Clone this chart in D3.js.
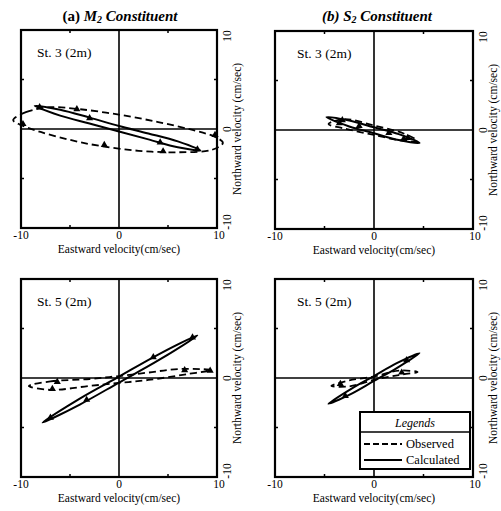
<!DOCTYPE html>
<html><head><meta charset="utf-8">
<script src="https://cdn.jsdelivr.net/npm/d3@7"></script>
<style>body{margin:0;background:#fff}svg{display:block}</style>
</head><body><svg id="c" width="501" height="511"></svg>
<script>
// ---- data (cm/sec) ----
const xTicks = [-10, 0, 10];
const yTicks = [-10, 0, 10];
const minorTicks = [-5, 5];
const stations = ["St. 3 (2m)", "St. 3 (2m)", "St. 5 (2m)", "St. 5 (2m)"];
const legendLabels = ["Observed", "Calculated"];

// M2, St.3
const obsA = [[-10.8,0.9],[-9.5,1.7],[-7,2.2],[-4,2.0],[0,1.45],[4,0.7],[7.5,-0.1],[9.8,-0.8],[10.6,-1.4],[9.5,-2.1],[6,-2.35],[2,-2.2],[-2,-1.7],[-5,-1.1],[-8,-0.3],[-10,0.4]];
const calA = [[-8.6,2.34],[-6,1.95],[-3,1.15],[0,0.3],[3,-0.45],[6,-1.25],[8.3,-2.16],[6,-1.85],[3,-1.05],[0,-0.25],[-3,0.55],[-6,1.35]];
const obsAMarks = [[-4.3,2.0],[4.5,-2.25],[-9.8,0.5],[9.8,-0.6],[-1.5,-1.6]];
const calAMarks = [[-8.1,2.2],[-3,1.1],[4.2,-1.35],[8.0,-2.05]];
// S2, St.3
const obsB = [[-4.6,0.6],[-3,1.1],[0,0.45],[3,-0.35],[4.4,-1.1],[3,-1.1],[0,-0.5],[-3,0.15]];
const calB = [[-4.8,1.3],[-2.5,0.96],[0,0.27],[2.5,-0.42],[4.6,-1.3],[2.5,-1.02],[0,-0.33],[-2.5,0.36]];
const obsBMarks = [[-3.5,0.7],[3.4,-0.8],[1.5,-0.3]];
const calBMarks = [[-3.2,1.0],[3.0,-0.9],[-1.5,0.4]];
// M2, St.5
const obsC = [[-9.2,-0.8],[-7,-0.35],[-3,-0.1],[0,0.2],[3,0.55],[6,0.9],[9.4,0.8],[7,0.4],[3,-0.2],[0,-0.5],[-3,-0.8],[-7,-1.2]];
const calC = [[-7.8,-4.5],[-4,-2.08],[0,0.14],[4,2.37],[8.0,4.3],[4,1.77],[0,-0.46],[-4,-2.68]];
const obsCMarks = [[-6.8,-1.1],[6.7,0.8],[9.3,0.75],[-6.3,-0.4]];
const calCMarks = [[-7.0,-4.0],[-3.3,-2.2],[3.5,2.1],[7.5,4.1]];
// S2, St.5
const obsD = [[-4.3,-0.8],[-2.5,-0.25],[0,0.15],[2.5,0.75],[4.4,0.6],[2.5,0.3],[0,-0.2],[-2.5,-0.85]];
const calD = [[-4.6,-2.6],[-2.3,-1.1],[0,0.2],[2.3,1.5],[4.6,2.5],[2.3,1.0],[0,-0.3],[-2.3,-1.6]];
const obsDMarks = [[-3.4,-0.6],[2.8,0.55]];
const calDMarks = [[-2.9,-1.8],[3.3,1.8]];

const panelData = [
  {obs: obsA, cal: calA, om: obsAMarks, cm: calAMarks},
  {obs: obsB, cal: calB, om: obsBMarks, cm: calBMarks},
  {obs: obsC, cal: calC, om: obsCMarks, cm: calCMarks},
  {obs: obsD, cal: calD, om: obsDMarks, cm: calDMarks}
];

// ---- layout ----
const boxes = [
  {x:21, y:30, w:196, h:198},
  {x:275, y:31, w:198, h:198},
  {x:21, y:279, w:196, h:198},
  {x:275, y:279, w:198, h:198}
];
const FONT = "'Liberation Serif','Times New Roman',serif";
const svg = d3.select("#c");

// titles
[[120,"M"],[377,"S"]].forEach((t,i)=>{
  const tx = svg.append("text").attr("x",t[0]).attr("y",21).attr("text-anchor","middle")
    .attr("font-family",FONT).attr("font-size",15).attr("font-weight","bold");
  tx.append("tspan").text(i===0?"(a) ":"(b) ").attr("font-style", i===0?"normal":"italic");
  tx.append("tspan").attr("font-style","italic").text(t[1]);
  tx.append("tspan").attr("font-size",10).attr("dy",2).attr("font-style","italic").text("2");
  tx.append("tspan").attr("dy",-2).attr("font-style","italic").text("  Constituent");
});

boxes.forEach((b,i)=>{
  const d = panelData[i];
  const x = d3.scaleLinear().domain([-10,10]).range([b.x, b.x+b.w]);
  const y = d3.scaleLinear().domain([-10,10]).range([b.y+b.h, b.y]);
  const g = svg.append("g");

  // zero lines
  g.append("line").attr("x1",x(0)).attr("x2",x(0)).attr("y1",b.y).attr("y2",b.y+b.h)
    .attr("stroke","#000").attr("stroke-width",1.6);
  g.append("line").attr("x1",b.x).attr("x2",b.x+b.w).attr("y1",y(0)).attr("y2",y(0))
    .attr("stroke","#000").attr("stroke-width",1.6);

  // minor inward ticks
  minorTicks.forEach(v=>{
    g.append("line").attr("x1",x(v)).attr("x2",x(v)).attr("y1",b.y).attr("y2",b.y+3).attr("stroke","#000").attr("stroke-width",1.5);
    g.append("line").attr("x1",x(v)).attr("x2",x(v)).attr("y1",b.y+b.h).attr("y2",b.y+b.h-3).attr("stroke","#000").attr("stroke-width",1.5);
    g.append("line").attr("y1",y(v)).attr("y2",y(v)).attr("x1",b.x).attr("x2",b.x+3).attr("stroke","#000").attr("stroke-width",1.5);
    g.append("line").attr("y1",y(v)).attr("y2",y(v)).attr("x1",b.x+b.w).attr("x2",b.x+b.w-3).attr("stroke","#000").attr("stroke-width",1.5);
  });

  // frame
  g.append("rect").attr("x",b.x).attr("y",b.y).attr("width",b.w).attr("height",b.h)
    .attr("fill","none").attr("stroke","#000").attr("stroke-width",2.2);

  const line = d3.line().x(p=>x(p[0])).y(p=>y(p[1])).curve(d3.curveCatmullRomClosed.alpha(0.5));
  g.append("path").attr("d",line(d.obs)).attr("fill","none").attr("stroke","#000")
    .attr("stroke-width",1.8).attr("stroke-dasharray","7,4");
  g.append("path").attr("d",line(d.cal)).attr("fill","none").attr("stroke","#000")
    .attr("stroke-width",2);
  const tri = d3.symbol().type(d3.symbolTriangle).size(22);
  d.om.concat(d.cm).forEach(p=>{
    g.append("path").attr("d",tri()).attr("transform",`translate(${x(p[0])},${y(p[1])})`).attr("fill","#000");
  });

  // station label
  g.append("text").attr("x",b.x+(i%2===0?16:22)).attr("y",b.y+27).attr("font-family",FONT)
    .attr("font-size",13.5).text(stations[i]);

  // x tick labels
  xTicks.forEach(v=>{
    g.append("text").attr("x",x(v)+(v===10?2:0)).attr("y",b.y+b.h+11).attr("text-anchor","middle")
      .attr("font-family",FONT).attr("font-size",11.5).text(v<0?"-"+Math.abs(v):v);
  });
  // x title
  g.append("text").attr("x",b.x+b.w/2).attr("y",b.y+b.h+25).attr("text-anchor","middle")
    .attr("font-family",FONT).attr("font-size",11.5).text("Eastward velocity(cm/sec)");

  // y tick labels (right, rotated)
  yTicks.forEach(v=>{
    const ty = y(v) + (v===10?6:(v===-10?-6:0));
    g.append("text").attr("transform",`translate(${b.x+b.w+14},${ty}) rotate(-90)`)
      .attr("text-anchor","middle").attr("font-family",FONT).attr("font-size",11.5)
      .text(v<0?"-"+Math.abs(v):v);
  });
  // y title
  g.append("text").attr("transform",`translate(${b.x+b.w+24},${b.y+b.h/2}) rotate(-90)`)
    .attr("text-anchor","middle").attr("font-family",FONT).attr("font-size",11.5)
    .text("Northward  velocity (cm/sec)");
});

// legend (inside panel d)
const lg = svg.append("g");
lg.append("rect").attr("x",360).attr("y",412).attr("width",110).attr("height",57)
  .attr("fill","#fff").attr("stroke","#000").attr("stroke-width",2);
lg.append("line").attr("x1",360).attr("x2",470).attr("y1",432).attr("y2",432).attr("stroke","#000").attr("stroke-width",1.5);
lg.append("text").attr("x",415).attr("y",427).attr("text-anchor","middle").attr("font-family",FONT)
  .attr("font-size",12).attr("font-style","italic").text("Legends");
legendLabels.forEach((t,i)=>{
  const yy = 444 + i*16;
  lg.append("line").attr("x1",364).attr("x2",402).attr("y1",yy).attr("y2",yy).attr("stroke","#000")
    .attr("stroke-width",2).attr("stroke-dasharray", i===0?"6,3":null);
  lg.append("text").attr("x",406).attr("y",yy+4).attr("font-family",FONT).attr("font-size",12.5).text(t);
});
</script></body></html>
